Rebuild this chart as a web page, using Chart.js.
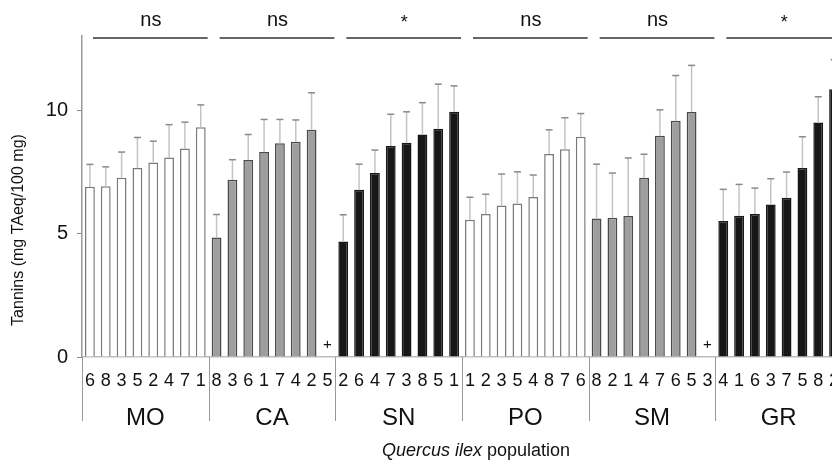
<!DOCTYPE html>
<html>
<head>
<meta charset="utf-8">
<script src="https://cdn.jsdelivr.net/npm/chart.js@4"></script>
<style>
  html, body { margin: 0; padding: 0; background: #fff; overflow: hidden; }
  .wrap { position: relative; width: 842px; height: 469px; }
  canvas { display: block; }
</style>
</head>
<body>
<div class="wrap"><canvas id="tanninChart"></canvas></div>
<script>
// populations, significance marks and trees within each population
const groups = ['MO', 'CA', 'SN', 'PO', 'SM', 'GR'];
const signif = ['ns', 'ns', '*', 'ns', 'ns', '*'];

const treesMO = ['6', '8', '3', '5', '2', '4', '7', '1'];
const treesCA = ['8', '3', '6', '1', '7', '4', '2', '5'];
const treesSN = ['2', '6', '4', '7', '3', '8', '5', '1'];
const treesPO = ['1', '2', '3', '5', '4', '8', '7', '6'];
const treesSM = ['8', '2', '1', '4', '7', '6', '5', '3'];
const treesGR = ['4', '1', '6', '3', '7', '5', '8', '2'];

// mean tannins (mg TAeq/100 mg), null = no data (+)
const meanMO = [6.89, 6.92, 7.26, 7.65, 7.88, 8.08, 8.44, 9.30];
const meanCA = [4.84, 7.18, 7.98, 8.30, 8.66, 8.72, 9.20, null];
const meanSN = [4.68, 6.77, 7.45, 8.55, 8.68, 9.01, 9.24, 9.93];
const meanPO = [5.56, 5.79, 6.14, 6.22, 6.48, 8.22, 8.41, 8.92];
const meanSM = [5.61, 5.64, 5.71, 7.26, 8.96, 9.57, 9.92, null];
const meanGR = [5.51, 5.72, 5.79, 6.18, 6.45, 7.65, 9.50, 10.84];

// upper error bars
const errMO = [0.91, 0.78, 1.04, 1.24, 0.86, 1.33, 1.07, 0.91];
const errCA = [0.93, 0.81, 1.03, 1.32, 0.96, 0.88, 1.50, null];
const errSN = [1.08, 1.04, 0.93, 1.28, 1.25, 1.29, 1.81, 1.05];
const errPO = [0.91, 0.80, 1.27, 1.28, 0.89, 0.98, 1.28, 0.94];
const errSM = [2.20, 1.81, 2.35, 0.95, 1.05, 1.83, 1.89, null];
const errGR = [1.28, 1.27, 1.05, 1.04, 1.04, 1.27, 1.04, 1.20];

const yTicks = [0, 5, 10];

const FONT = "'Liberation Sans', Arial, sans-serif";
const fills   = ['#ffffff', '#9e9e9e', '#171717', '#ffffff', '#9e9e9e', '#171717'];
const borders = ['#7a7a7a', '#4a4a4a', '#171717', '#7a7a7a', '#4a4a4a', '#171717'];

const treeLists = [treesMO, treesCA, treesSN, treesPO, treesSM, treesGR];
const meanLists = [meanMO, meanCA, meanSN, meanPO, meanSM, meanGR];
const errLists  = [errMO, errCA, errSN, errPO, errSM, errGR];

const labels = [], values = [], errors = [], bg = [], bd = [];
treeLists.forEach(function (trees, g) {
    trees.forEach(function (t, i) {
        labels.push(t);
        values.push(meanLists[g][i]);
        errors.push(errLists[g][i]);
        bg.push(fills[g]);
        bd.push(borders[g]);
    });
});

const perGroup = 8;

const extrasPlugin = {
    id: 'extras',
    afterDatasetsDraw: function (chart) {
        const ctx = chart.ctx;
        const x = chart.scales.x, y = chart.scales.y;
        const meta = chart.getDatasetMeta(0);
        ctx.save();
        // error bars (upper only)
        meta.data.forEach(function (bar, i) {
            if (values[i] == null) return;
            const top = y.getPixelForValue(values[i] + errors[i]);
            ctx.strokeStyle = '#c4c4c4';
            ctx.lineWidth = 1.5;
            ctx.beginPath();
            ctx.moveTo(bar.x, bar.y);
            ctx.lineTo(bar.x, top);
            ctx.stroke();
            ctx.strokeStyle = '#8a8a8a';
            ctx.beginPath();
            ctx.moveTo(bar.x - 3.5, top);
            ctx.lineTo(bar.x + 3.5, top);
            ctx.stroke();
        });
        // missing value marks
        ctx.fillStyle = '#111';
        ctx.font = '15px ' + FONT;
        ctx.textAlign = 'center';
        ctx.textBaseline = 'middle';
        values.forEach(function (v, i) {
            if (v == null) ctx.fillText('+', x.getPixelForValue(i), y.bottom - 12);
        });
        ctx.restore();
    },
    afterDraw: function (chart) {
        const ctx = chart.ctx;
        const x = chart.scales.x, y = chart.scales.y;
        const slot = x.getPixelForValue(1) - x.getPixelForValue(0);
        ctx.save();
        groups.forEach(function (name, g) {
            const left = x.getPixelForValue(g * perGroup) - slot / 2;
            const right = left + slot * perGroup;
            // separators under the axis
            ctx.strokeStyle = '#9a9a9a';
            ctx.lineWidth = 1;
            ctx.beginPath();
            ctx.moveTo(Math.round(left) + 0.5, y.bottom);
            ctx.lineTo(Math.round(left) + 0.5, 421);
            ctx.stroke();
            // group name
            ctx.fillStyle = '#111';
            ctx.font = '24px ' + FONT;
            ctx.textAlign = 'center';
            ctx.textBaseline = 'middle';
            ctx.fillText(name, (left + right) / 2, 418);
            // significance line + mark
            ctx.strokeStyle = '#333';
            ctx.lineWidth = 1.5;
            ctx.beginPath();
            ctx.moveTo(left + 11, 38);
            ctx.lineTo(right - 1, 38);
            ctx.stroke();
            ctx.font = (signif[g] === '*' ? '18px ' : '20px ') + FONT;
            ctx.fillText(signif[g], (left + 11 + right) / 2, signif[g] === '*' ? 23 : 20);
        });
        // axis titles
        ctx.fillStyle = '#111';
        ctx.font = '16px ' + FONT;
        ctx.textAlign = 'center';
        ctx.textBaseline = 'middle';
        ctx.save();
        ctx.translate(19, 230);
        ctx.rotate(-Math.PI / 2);
        ctx.fillText('Tannins (mg TAeq/100 mg)', 0, 0);
        ctx.restore();

        const italic = 'Quercus ilex';
        const plain = ' population';
        ctx.font = 'italic 18px ' + FONT;
        const w1 = ctx.measureText(italic).width;
        ctx.font = '18px ' + FONT;
        const w2 = ctx.measureText(plain).width;
        const start = 476 - (w1 + w2) / 2;
        ctx.textAlign = 'left';
        ctx.font = 'italic 18px ' + FONT;
        ctx.fillText(italic, start, 451);
        ctx.font = '18px ' + FONT;
        ctx.fillText(plain, start + w1, 451);
        ctx.restore();
    }
};

new Chart(document.getElementById('tanninChart'), {
    type: 'bar',
    data: {
        labels: labels,
        datasets: [{
            data: values,
            backgroundColor: bg,
            borderColor: bd,
            borderWidth: 1.5,
            categoryPercentage: 1,
            barPercentage: 0.62
        }]
    },
    options: {
        responsive: true,
        maintainAspectRatio: false,
        animation: false,
        // canvas is wider than the window: the last GR bar runs off the edge, as in the figure
        layout: { padding: { top: 36, left: 0, right: 0, bottom: 0 } },
        plugins: {
            legend: { display: false },
            tooltip: { enabled: false }
        },
        scales: {
            x: {
                // invisible tick marks give the label gap without extra right padding
                grid: { display: true, drawOnChartArea: false, drawTicks: true, tickLength: 13, color: 'rgba(0,0,0,0)' },
                border: { display: true, color: '#bdbdbd', width: 1.5 },
                ticks: {
                    font: { family: FONT, size: 18 },
                    color: '#111',
                    padding: 0,
                    maxRotation: 0,
                    autoSkip: false
                },
                afterFit: function (scale) { scale.height = 112; }
            },
            y: {
                min: 0,
                max: 13,
                grid: { drawOnChartArea: false, drawTicks: true, tickLength: 5, color: '#888' },
                border: { display: true, color: '#999', width: 1.5 },
                afterBuildTicks: function (scale) {
                    scale.ticks = yTicks.map(function (v) { return { value: v }; });
                },
                ticks: {
                    font: { family: FONT, size: 20 },
                    color: '#111',
                    padding: 9
                },
                afterFit: function (scale) { scale.width = 82; }
            }
        }
    },
    plugins: [extrasPlugin]
});
</script>
</body>
</html>
